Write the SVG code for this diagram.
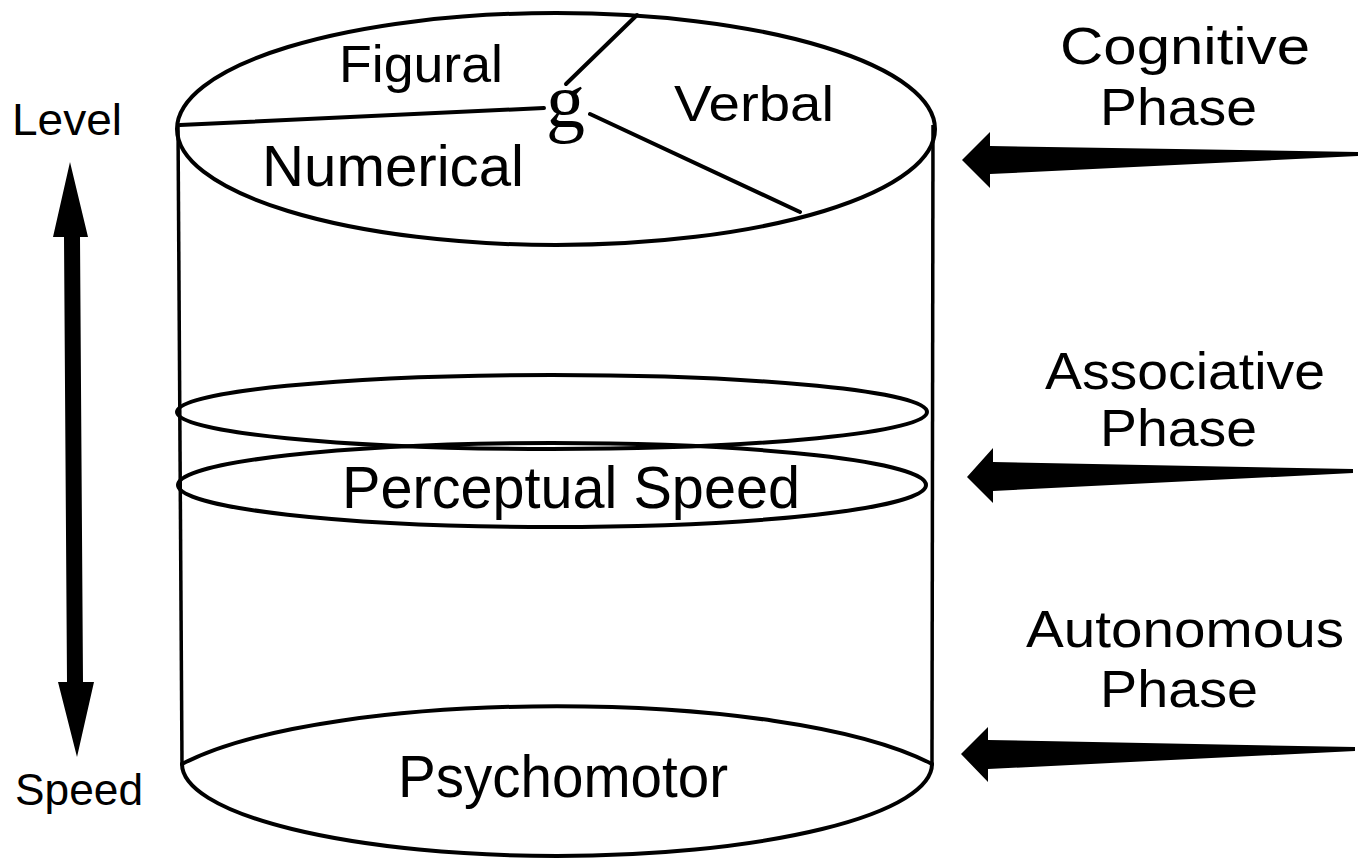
<svg xmlns="http://www.w3.org/2000/svg" width="1367" height="860" viewBox="0 0 1367 860">
<style>
.ln{fill:none;stroke:#000;stroke-width:4;stroke-linecap:round}
.side{fill:none;stroke:#000;stroke-width:3.5}
.t{font-family:"Liberation Sans",Arial,sans-serif;fill:#000}
.ar{fill:#000;stroke:none}
</style>
<rect width="1367" height="860" fill="#fff"/>
<g id="cylinder">
<line class="side" x1="178" y1="125" x2="182" y2="764"/>
<line class="side" x1="933" y1="125" x2="932" y2="764"/>
<path class="ln" d="M182,764 A375,92 0 0 0 932,764"/>
</g>
<g id="top-abilities">
<ellipse class="ln" cx="556" cy="129" rx="379" ry="116"/>
<line class="ln" x1="180" y1="125" x2="544" y2="108"/>
<line class="ln" x1="566" y1="84" x2="637" y2="15"/>
<line class="ln" x1="590" y1="114" x2="800" y2="212"/>
<text class="t" x="339" y="82" font-size="52" textLength="164" lengthAdjust="spacingAndGlyphs">Figural</text>
<text x="546" y="127" font-size="78" font-family="Liberation Serif,serif">g</text>
<text class="t" x="674" y="121" font-size="50" textLength="160" lengthAdjust="spacingAndGlyphs">Verbal</text>
<text class="t" x="262" y="186" font-size="58" textLength="262" lengthAdjust="spacingAndGlyphs">Numerical</text>
</g>
<g id="perceptual-speed">
<ellipse class="ln" cx="552" cy="412" rx="375" ry="37"/>
<ellipse class="ln" cx="552" cy="485" rx="374" ry="42"/>
<text class="t" x="342" y="508" font-size="60" textLength="458" lengthAdjust="spacingAndGlyphs">Perceptual Speed</text>
</g>
<g id="psychomotor">
<path class="ln" d="M182,764 C330,687 784,687 932,764"/>
<text class="t" x="398" y="797" font-size="60" textLength="330" lengthAdjust="spacingAndGlyphs">Psychomotor</text>
</g>
<g id="level-speed">
<text class="t" x="12" y="135" font-size="45" textLength="110" lengthAdjust="spacingAndGlyphs">Level</text>
<text class="t" x="15" y="805" font-size="45" textLength="128" lengthAdjust="spacingAndGlyphs">Speed</text>
</g>
<g id="cognitive-phase">
<text class="t" x="1060" y="64" font-size="52" textLength="250" lengthAdjust="spacingAndGlyphs">Cognitive</text>
<text class="t" x="1100" y="125" font-size="52" textLength="157" lengthAdjust="spacingAndGlyphs">Phase</text>
</g>
<g id="associative-phase">
<text class="t" x="1045" y="389" font-size="52" textLength="280" lengthAdjust="spacingAndGlyphs">Associative</text>
<text class="t" x="1100" y="446" font-size="52" textLength="157" lengthAdjust="spacingAndGlyphs">Phase</text>
</g>
<g id="autonomous-phase">
<text class="t" x="1026" y="647" font-size="52" textLength="318" lengthAdjust="spacingAndGlyphs">Autonomous</text>
<text class="t" x="1100" y="707" font-size="52" textLength="158" lengthAdjust="spacingAndGlyphs">Phase</text>
</g>
<g id="connectors">
<polygon class="ar" points="70,162 88,237 80,237 83,682 94,682 77,757 58,682 67,682 64,237 53,237"/>
<polygon class="ar" points="962,160 990,132 990,146 1358,152 1358,156 990,174 990,188"/>
<polygon class="ar" points="967,477 993,448 993,462 1353,469 1353,473 993,491 993,503"/>
<polygon class="ar" points="961,754 988,727 988,740 1355,747 1355,751 988,769 988,782"/>
</g>
</svg>
